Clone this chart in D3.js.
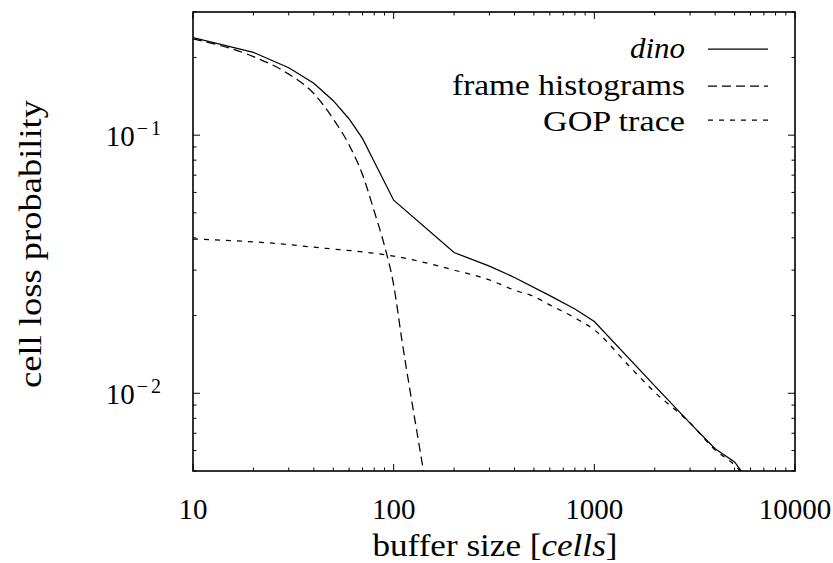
<!DOCTYPE html>
<html>
<head>
<meta charset="utf-8">
<script src="https://cdn.jsdelivr.net/npm/d3@7"></script>
<style>
  html, body { margin: 0; padding: 0; background: #fff; }
  svg { display: block; }
  text { font-family: "Liberation Serif", "Times New Roman", serif; fill: #000; }
</style>
</head>
<body>
<svg id="chart" width="833" height="563"></svg>
<script>
// Cell loss probability vs. buffer size (log-log)
const dinoBuffer = [10, 20, 30, 40, 50, 60, 70, 80, 100, 200, 300, 400, 600, 800, 1000, 2000, 3000, 4000, 5000, 6000];
const dinoLoss   = [0.2385, 0.2094, 0.1825, 0.1589, 0.136, 0.1155, 0.0969, 0.0789, 0.0560, 0.0351, 0.0311, 0.0281, 0.0239, 0.0212, 0.01897, 0.01069, 0.00766, 0.0061, 0.00542, 0.00447];

const frameBuffer = [10, 20, 30, 40, 50, 60, 70, 80, 90, 100, 110, 120, 130, 140, 150];
const frameLoss   = [0.236, 0.2015, 0.1724, 0.145, 0.1155, 0.0916, 0.0702, 0.0507, 0.0373, 0.0263, 0.0160, 0.0105, 0.00724, 0.00513, 0.0037];

const gopBuffer = [10, 20, 30, 40, 50, 70, 100, 150, 200, 300, 400, 500, 600, 800, 1000, 1500, 2000, 3000, 4000, 5000, 6000];
const gopLoss   = [0.0396, 0.0386, 0.0377, 0.0368, 0.0362, 0.0353, 0.034, 0.0318, 0.0300, 0.0275, 0.0251, 0.0237, 0.0220, 0.0196, 0.0176, 0.01268, 0.0101, 0.00767, 0.00603, 0.00527, 0.00447];

const xTickValues = [10, 100, 1000, 10000];
const xTickLabels = ["10", "100", "1000", "10000"];
const yTickValues = [0.1, 0.01];
const yTickExponents = ["1", "2"];

const seriesNames = ["dino", "frame histograms", "GOP trace"];

const svg = d3.select("#chart");
const plotLeft = 193, plotRight = 795, plotTop = 12, plotBottom = 471;

const x = d3.scaleLog().domain([10, 10000]).range([plotLeft, plotRight]);
const y = d3.scaleLog().domain([0.005, 0.3]).range([plotBottom, plotTop]);

// minor tick positions for each decade
const xMinor = [];
for (let d = 10; d < 10000; d *= 10) for (let k = 2; k <= 9; k++) xMinor.push(d * k);
const yMinor = [];
for (let d = 0.001; d < 1; d *= 10) for (let k = 1; k <= 9; k++) {
  const v = +(d * k).toPrecision(3);
  if (v >= 0.005 && v <= 0.3 && !yTickValues.includes(v)) yMinor.push(v);
}

const g = svg.append("g");

// clip region for data lines
svg.append("clipPath").attr("id", "plotClip")
  .append("rect").attr("x", plotLeft).attr("y", plotTop)
  .attr("width", plotRight - plotLeft).attr("height", plotBottom - plotTop);

// ticks drawn inward on all four sides
const majorLen = 7, minorLen = 3.5;
const tickG = g.append("g").attr("stroke", "#000").attr("stroke-width", 1);
function xTicks(vals, len) {
  vals.forEach(v => {
    const px = x(v);
    tickG.append("line").attr("x1", px).attr("x2", px).attr("y1", plotBottom).attr("y2", plotBottom - len);
    tickG.append("line").attr("x1", px).attr("x2", px).attr("y1", plotTop).attr("y2", plotTop + len);
  });
}
function yTicks(vals, len) {
  vals.forEach(v => {
    const py = y(v);
    tickG.append("line").attr("x1", plotLeft).attr("x2", plotLeft + len).attr("y1", py).attr("y2", py);
    tickG.append("line").attr("x1", plotRight).attr("x2", plotRight - len).attr("y1", py).attr("y2", py);
  });
}
xTicks(xTickValues, majorLen);
xTicks(xMinor, minorLen);
yTicks(yTickValues, majorLen);
yTicks(yMinor, minorLen);

// data lines
const plot = g.append("g").attr("clip-path", "url(#plotClip)");
function drawSeries(xs, ys, dash, curve) {
  const pts = xs.map((v, i) => [v, ys[i]]);
  const line = d3.line().x(d => x(d[0])).y(d => y(d[1])).curve(curve);
  plot.append("path").datum(pts)
    .attr("d", line)
    .attr("fill", "none")
    .attr("stroke", "#000")
    .attr("stroke-width", 1.25)
    .attr("stroke-dasharray", dash);
}
drawSeries(dinoBuffer, dinoLoss, null, d3.curveLinear);
drawSeries(frameBuffer, frameLoss, "9,5", d3.curveMonotoneX);
drawSeries(gopBuffer, gopLoss, "5,6", d3.curveMonotoneX);

// frame
g.append("rect").attr("x", plotLeft).attr("y", plotTop)
  .attr("width", plotRight - plotLeft).attr("height", plotBottom - plotTop)
  .attr("fill", "none").attr("stroke", "#000").attr("stroke-width", 1.6);

// x tick labels
const fs = 29;
g.append("g").selectAll("text").data(xTickValues).join("text")
  .attr("x", d => x(d)).attr("y", 519)
  .attr("text-anchor", "middle").attr("font-size", fs)
  .text((d, i) => xTickLabels[i]);

// y tick labels: 10 with a raised negative exponent
yTickValues.forEach((v, i) => {
  const t = g.append("text").attr("x", 161).attr("y", y(v) + 11).attr("text-anchor", "end").attr("font-size", fs);
  t.append("tspan").text("10");
  t.append("tspan").attr("font-size", 20).attr("dy", -11).attr("dx", 2).text("\u2212");
  t.append("tspan").attr("font-size", 20).attr("dx", 3).text(yTickExponents[i]);
});

// axis titles
const titleFs = 31;
const xt = g.append("text").attr("x", 495).attr("y", 556).attr("text-anchor", "middle").attr("font-size", titleFs)
  .attr("textLength", 245).attr("lengthAdjust", "spacingAndGlyphs");
xt.append("tspan").text("buffer size [");
xt.append("tspan").attr("font-style", "italic").text("cells");
xt.append("tspan").text("]");

g.append("text").attr("transform", "translate(41,244) rotate(-90)")
  .attr("text-anchor", "middle").attr("font-size", titleFs)
  .attr("textLength", 288).attr("lengthAdjust", "spacingAndGlyphs")
  .text("cell loss probability");

// legend
const legendFs = 30;
const legendDash = [null, "9,5", "5,6"];
const legendWidths = [55, 233, 142];
const legendBase = [58, 95, 131];
const legendLineY = [49, 86, 120];
seriesNames.forEach((name, i) => {
  g.append("text").attr("x", 685).attr("y", legendBase[i]).attr("text-anchor", "end")
    .attr("font-size", legendFs).attr("font-style", i === 0 ? "italic" : null)
    .attr("textLength", legendWidths[i]).attr("lengthAdjust", "spacingAndGlyphs")
    .text(name);
  g.append("line").attr("x1", 708).attr("x2", 768)
    .attr("y1", legendLineY[i]).attr("y2", legendLineY[i])
    .attr("stroke", "#000").attr("stroke-width", 1.25)
    .attr("stroke-dasharray", legendDash[i]);
});
</script>
</body>
</html>
